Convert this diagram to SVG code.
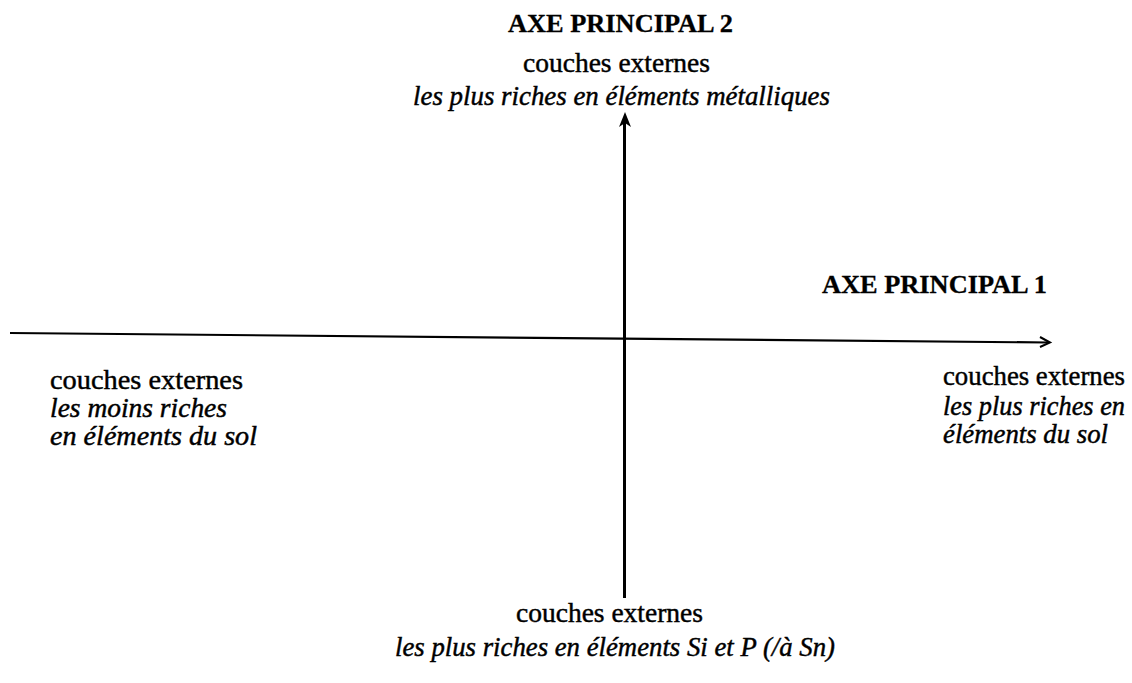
<svg xmlns="http://www.w3.org/2000/svg" width="1132" height="683" viewBox="0 0 1132 683">
<style>
text{font-family:"Liberation Serif","Times New Roman",serif;fill:#000;stroke:#000;stroke-width:0.45px}
.b{font-weight:bold;font-size:26px;stroke-width:0.3px}
.r{font-size:27px}
.i{font-style:italic;font-size:27px}
.ax{stroke:#000;fill:none}
</style>
<rect width="1132" height="683" fill="#fff"/>
<g id="connectors">
<line class="ax" x1="10" y1="333" x2="1048" y2="342.5" stroke-width="2.2"/>
<polyline class="ax" points="1040,337 1050,342.5 1040,347" stroke-width="2"/>
<line class="ax" x1="624.5" y1="598" x2="624.5" y2="122" stroke-width="3"/>
<polygon points="625,112 619,127 625,123 631,127" fill="#000"/>
</g>
<g id="axis2">
<text class="b" x="508" y="32" textLength="225" lengthAdjust="spacingAndGlyphs">AXE PRINCIPAL 2</text>
<text class="r" x="523" y="72" textLength="187" lengthAdjust="spacingAndGlyphs">couches externes</text>
<text class="i" x="413" y="105" textLength="417" lengthAdjust="spacingAndGlyphs">les plus riches en éléments métalliques</text>
</g>
<g id="axis1">
<text class="b" x="822" y="293" textLength="225" lengthAdjust="spacingAndGlyphs">AXE PRINCIPAL 1</text>
</g>
<g id="left">
<text class="r" x="50" y="389" textLength="193" lengthAdjust="spacingAndGlyphs">couches externes</text>
<text class="i" x="50" y="417" textLength="177" lengthAdjust="spacingAndGlyphs">les moins riches</text>
<text class="i" x="50" y="445" textLength="207" lengthAdjust="spacingAndGlyphs">en éléments du sol</text>
</g>
<g id="right">
<text class="r" x="943" y="385" textLength="182" lengthAdjust="spacingAndGlyphs">couches externes</text>
<text class="i" x="943" y="415" textLength="182" lengthAdjust="spacingAndGlyphs">les plus riches en</text>
<text class="i" x="943" y="443" textLength="165" lengthAdjust="spacingAndGlyphs">éléments du sol</text>
</g>
<g id="bottom">
<text class="r" x="516" y="622" textLength="187" lengthAdjust="spacingAndGlyphs">couches externes</text>
<text class="i" x="395" y="656" textLength="440" lengthAdjust="spacingAndGlyphs">les plus riches en éléments Si et P (/à Sn)</text>
</g>
</svg>
